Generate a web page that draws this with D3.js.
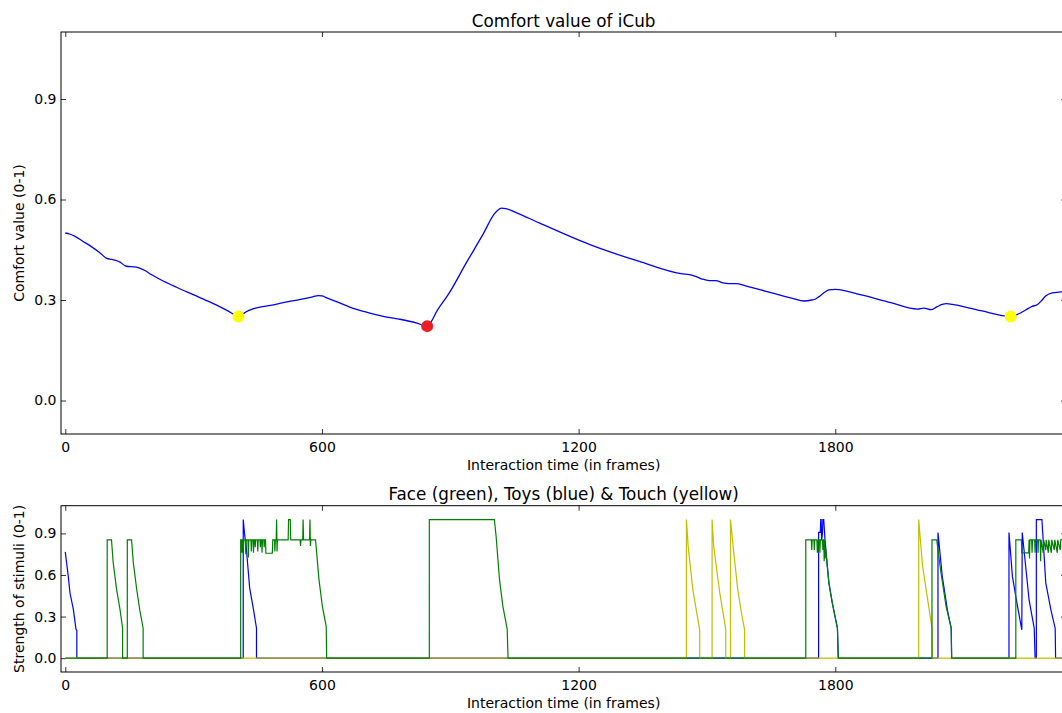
<!DOCTYPE html>
<html><head><meta charset="utf-8">
<script src="https://cdn.jsdelivr.net/npm/d3@7"></script>
<style>
body{margin:0;background:#fff;}
svg{display:block;font-family:"DejaVu Sans",sans-serif;}
</style>
</head><body>
<svg id="c" width="1062" height="713"></svg>
<script>
// ---------- data ----------
const xTicks = [0, 600, 1200, 1800, 2400];
const yTicks = [0.0, 0.3, 0.6, 0.9];
const topTitle = "Comfort value of iCub";
const topYLabel = "Comfort value (0-1)";
const bottomTitle = "Face (green), Toys (blue) & Touch (yellow)";
const bottomYLabel = "Strength of stimuli (0-1)";
const xLabel = "Interaction time (in frames)";

// comfort value [frame, value]
const comfort = [
  [0,0.500],[10,0.497],[23,0.490],[40,0.476],[60,0.460],[80,0.442],[97,0.424],[108,0.421],
  [118,0.418],[128,0.413],[140,0.402],[147,0.400],[160,0.399],[170,0.397],[186,0.388],
  [200,0.377],[221,0.362],[260,0.338],[299,0.316],[340,0.293],[377,0.270],[405,0.252],
  [415,0.258],[423,0.265],[440,0.274],[455,0.279],[480,0.284],[509,0.292],[550,0.302],
  [580,0.310],[591,0.313],[600,0.312],[610,0.307],[640,0.292],[665,0.279],[700,0.265],
  [743,0.251],[780,0.243],[820,0.232],[846,0.222],[870,0.270],[898,0.322],[937,0.410],
  [976,0.495],[1003,0.557],[1011,0.568],[1019,0.574],[1030,0.573],[1050,0.563],[1108,0.530],
  [1225,0.466],[1342,0.415],[1443,0.378],[1459,0.376],[1475,0.370],[1490,0.362],[1505,0.358],
  [1521,0.358],[1535,0.352],[1552,0.349],[1568,0.349],[1590,0.342],[1638,0.326],[1700,0.305],
  [1727,0.297],[1745,0.300],[1754,0.303],[1762,0.310],[1775,0.323],[1785,0.330],[1800,0.332],
  [1809,0.331],[1840,0.322],[1871,0.312],[1930,0.292],[1992,0.273],[2007,0.276],[2024,0.271],
  [2038,0.280],[2050,0.287],[2060,0.289],[2073,0.287],[2140,0.268],[2210,0.251],[2229,0.259],
  [2245,0.270],[2260,0.281],[2272,0.286],[2282,0.298],[2291,0.311],[2307,0.321],[2326,0.324],
  [2340,0.325]
];
// markers on the comfort curve [frame, value]
const yellowMarks = [[405,0.251],[2210,0.251]];
const redMarks = [[846,0.222]];

// stimuli [frame, value]
const toys = [
  [0,0.767],[7,0.59],[11,0.47],[19,0.35],[25,0.209],[27,0.2],[27,0],
  [416,0],[416,1.0],[419,0.9],[423,0.80],[431,0.507],[440,0.35],[447,0.216],[447,0],
  [1761,0],[1761,0.907],[1765,0.907],[1766,1.0],[1767,1.0],[1768,0.85],[1770,0.9],[1771,1.0],
  [1773,1.0],[1776,0.85],[1785,0.543],[1793,0.398],[1805,0.216],[1807,0],
  [2040,0],[2040,0.907],[2050,0.592],[2062,0.349],[2071,0.216],[2072,0],
  [2206,0],[2206,0.907],[2214,0.59],[2226,0.373],[2236,0.204],[2237,0.907],[2253,0.42],
  [2265,0.216],[2267,0],
  [2270,0],[2270,1.0],[2283,1.0],[2292,0.543],[2304,0.349],[2314,0.216],[2315,0],[2340,0]
];
const touch = [
  [0,0],[1452,0],[1452,1.0],[1456,0.81],[1467,0.495],[1476,0.33],[1483,0.204],[1483,0],
  [1512,0],[1512,1.0],[1516,0.80],[1530,0.47],[1538,0.32],[1544,0.204],[1544,0],
  [1555,0],[1555,1.0],[1561,0.81],[1572,0.495],[1581,0.32],[1588,0.204],[1588,0],
  [1995,0],[1995,1.0],[2004,0.665],[2016,0.42],[2026,0.216],[2027,0],[2340,0]
];
const face = [
  [0,0],[98,0],[98,0.854],[108,0.854],[112,0.69],[120,0.495],[128,0.35],[134,0.216],[134,0],
  [145,0],[145,0.854],[155,0.854],[159,0.69],[167,0.495],[174,0.35],[182,0.216],[182,0],
  [410,0],[410,0.854],[412,0.854],[413,0.76],[414,0.854],[415,0.854],[416,0.75],[417,0.854],
  [421,0.854],[422,0.75],[423,0.854],[427,0.854],[428,0.726],[429,0.854],[434,0.854],[435,0.77],
  [436,0.854],[439,0.854],[440,0.76],[441,0.854],[443,0.854],[444,0.80],[445,0.854],[449,0.854],
  [450,0.77],[451,0.854],[455,0.854],[456,0.80],[457,0.854],[459,0.854],[460,0.76],[461,0.854],
  [464,0.854],[465,0.80],[466,0.854],[468,0.854],[469,0.757],[484,0.757],[485,0.854],[489,0.854],
  [490,0.77],[491,0.854],[493,0.854],[494,1.0],[495,0.77],[496,0.854],[521,0.854],[522,1.0],
  [526,1.0],[527,0.854],[549,0.854],[550,0.81],[551,0.854],[555,0.854],[556,1.0],[557,0.854],
  [571,0.854],[572,1.0],[573,0.81],[574,0.854],[585,0.854],[593,0.568],[601,0.374],[610,0.228],
  [611,0],
  [851,0],[851,1.0],[1003,1.0],[1007,0.883],[1015,0.568],[1023,0.373],[1033,0.209],[1035,0],
  [1731,0],[1731,0.854],[1744,0.854],[1745,0.78],[1746,0.854],[1750,0.854],[1751,0.78],
  [1752,0.854],[1757,0.854],[1758,0.76],[1759,0.854],[1760,0.76],[1761,0.854],[1763,0.854],
  [1764,0.76],[1765,0.854],[1770,0.854],[1771,0.78],[1772,0.854],[1773,0.854],[1774,0.70],
  [1775,0.854],[1776,0.72],[1777,0.80],[1785,0.543],[1793,0.398],[1805,0.216],[1807,0],
  [2026,0],[2026,0.854],[2037,0.854],[2047,0.616],[2059,0.374],[2071,0.216],[2072,0],
  [2222,0],[2222,0.854],[2235,0.854],[2236,0.76],[2252,0.76],[2253,0.854],[2254,0.72],
  [2255,0.854],[2259,0.854],[2260,0.76],[2261,0.854],[2266,0.854],[2267,0.76],[2268,0.854],
  [2273,0.854],[2274,0.76],[2275,0.854],[2279,0.854],[2280,0.70],[2281,0.854],
  [2286,0.76],[2287,0.854],[2292,0.78],[2293,0.854],[2298,0.76],[2299,0.854],
  [2305,0.76],[2306,0.854],[2312,0.78],[2313,0.854],[2319,0.76],[2320,0.854],
  [2326,0.78],[2327,0.854],[2340,0.854]
];

// ---------- drawing ----------
const svg = d3.select("#c");
const x = d3.scaleLinear().domain([-10, 2340]).range([61, 1066.3]);
const visibleXTicks = xTicks.filter(t => t <= 2340);

function panel(top, bottom, title, ylabel) {
  const y = d3.scaleLinear().domain([-0.1, 1.1]).range([bottom, top]);
  const g = svg.append("g");
  const tick = 5;
  const ab = g.append("g").attr("transform", `translate(0,${bottom})`)
    .call(d3.axisBottom(x).tickValues(visibleXTicks).tickSizeInner(-tick).tickSizeOuter(0)
      .tickPadding(8).tickFormat(d3.format("d")));
  const at = g.append("g").attr("transform", `translate(0,${top})`)
    .call(d3.axisTop(x).tickValues(visibleXTicks).tickSizeInner(-tick).tickSizeOuter(0).tickFormat(""));
  const al = g.append("g").attr("transform", `translate(61,0)`)
    .call(d3.axisLeft(y).tickValues(yTicks).tickSizeInner(-tick).tickSizeOuter(0).tickPadding(4.5)
      .tickFormat(d3.format(".1f")));
  const ar = g.append("g").attr("transform", `translate(${x.range()[1]},0)`)
    .call(d3.axisRight(y).tickValues(yTicks).tickSizeInner(-tick).tickSizeOuter(0).tickFormat(""));
  [ab, at, al, ar].forEach(a => {
    a.select(".domain").remove();
    a.selectAll("line").attr("stroke", "#000").attr("stroke-width", 0.8);
    a.selectAll("text").attr("fill", "#000").attr("font-size", 14)
      .attr("font-family", "DejaVu Sans, sans-serif");
  });
  g.append("rect").attr("x", 61).attr("y", top)
    .attr("width", x.range()[1] - 61).attr("height", bottom - top)
    .attr("fill", "none").attr("stroke", "#000").attr("stroke-width", 1);
  const cx = (61 + x.range()[1]) / 2;
  g.append("text").attr("x", cx).attr("y", top - 5.5).attr("text-anchor", "middle")
    .attr("font-size", 16.8).attr("fill", "#000").text(title);
  g.append("text").attr("x", cx).attr("y", bottom + 35.7).attr("text-anchor", "middle")
    .attr("font-size", 14).attr("fill", "#000").text(xLabel);
  g.append("text").attr("transform", `translate(23.5,${(top + bottom) / 2}) rotate(-90)`)
    .attr("text-anchor", "middle").attr("font-size", 14).attr("fill", "#000").text(ylabel);
  return y;
}

const yTop = panel(32, 434, topTitle, topYLabel);
const yBot = panel(505.7, 672, bottomTitle, bottomYLabel);

const lineTop = d3.line().x(d => x(d[0])).y(d => yTop(d[1])).curve(d3.curveMonotoneX);
svg.append("path").datum(comfort).attr("d", lineTop)
  .attr("fill", "none").attr("stroke", "#0000ff").attr("stroke-width", 1.3);
svg.selectAll("circle.ym").data(yellowMarks).enter().append("circle")
  .attr("cx", d => x(d[0])).attr("cy", d => yTop(d[1])).attr("r", 6).attr("fill", "#ffff00");
svg.selectAll("circle.rm").data(redMarks).enter().append("circle")
  .attr("cx", d => x(d[0])).attr("cy", d => yTop(d[1])).attr("r", 6).attr("fill", "#ee1c24");

const lineBot = d3.line().x(d => x(d[0])).y(d => yBot(d[1]));
[[toys, "#0000ff"], [touch, "#bfbf00"], [face, "#008000"]].forEach(([data, col]) => {
  svg.append("path").datum(data).attr("d", lineBot)
    .attr("fill", "none").attr("stroke", col).attr("stroke-width", 1.2)
    .attr("stroke-linejoin", "miter");
});
</script>
</body></html>
